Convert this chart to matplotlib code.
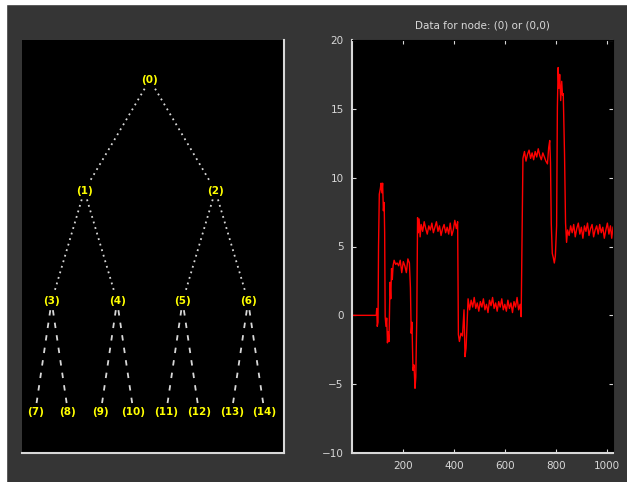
import matplotlib
matplotlib.use("Agg")
import matplotlib.pyplot as plt
from matplotlib.patches import Rectangle

OUTPUT_PNG = "out.png"

# Tree: binary tree of depth 3, nodes numbered 0..14
tree_depth = 3
node_labels = ["(%d)" % n for n in range(15)]

# Signal of node (0) (sample index, value)
sig_x = [1, 96, 98, 100, 103, 105, 108, 112, 115, 118, 121, 124, 127, 129, 131, 134, 137, 140,
         143, 146, 150, 153, 156, 159, 162, 166, 172, 178, 184, 190, 196, 202, 208, 214, 220,
         226, 230, 233, 236, 240, 244, 248, 251, 255, 258, 261, 264, 268,
         272, 278, 284, 290, 296, 302, 308, 314, 320, 326, 332, 338, 344, 350, 356, 362, 368,
         374, 380, 386, 392, 398, 404, 410, 415,
         418, 422, 428, 434, 440, 444, 448, 452, 456, 462, 468,
         474, 480, 486, 492, 498, 504, 510, 516, 522, 528, 534, 540, 546, 552, 558, 564, 570,
         576, 582, 588, 594, 600, 606, 612, 618, 624, 630, 636, 642, 648, 654, 660, 664, 666,
         671, 677, 683, 689, 695, 701, 707, 713, 719, 725, 731, 737, 743, 749, 755, 761, 767,
         772, 776,
         779, 782, 786, 790, 794, 798, 803, 806, 809, 812, 815, 819, 823, 826, 829, 834, 838,
         842, 846,
         852, 858, 864, 870, 876, 882, 888, 894, 900, 906, 912, 918, 924, 930, 936, 942, 948,
         954, 960, 966, 972, 978, 984, 990, 996, 1002, 1008, 1014, 1019, 1024]
sig_y = [0, 0, 0.5, -0.8, -0.5, 5.0, 8.8, 9.2, 9.6, 8.9, 9.6, 7.6, 8.2, 6.0, -0.1, -0.8, -0.2, -2.0,
         -1.2, -1.9, 2.4, 1.2, 3.4, 2.6, 3.6, 4.0, 3.7, 3.8, 3.6, 4.0, 3.1, 3.9, 3.6, 3.1, 4.1,
         3.8, 2.0, -1.3, -0.5, -4.0, -3.6, -5.3, -4.5, -0.1, 7.1, 6.0, 7.0, 5.7,
         6.6, 6.1, 6.8, 6.3, 5.9, 6.5, 6.2, 6.7, 6.0, 6.4, 6.8, 6.1, 6.5, 5.8, 6.3, 6.6, 6.0,
         6.4, 5.9, 6.7, 5.8, 6.2, 6.9, 6.3, 6.8,
         -1.4, -1.9, -1.3, -1.5, 0.4, -3.0, -2.4, -0.6, 1.2, 0.4, 1.1,
         0.6, 1.3, 0.5, 0.9, 0.3, 1.0, 0.6, 1.2, 0.4, 0.8, 0.2, 1.1, 0.7, 1.3, 0.5, 0.9, 0.3,
         1.0, 0.6, 1.2, 0.4, 0.8, 0.3, 1.1, 0.5, 0.9, 0.2, 1.0, 0.6, 1.3, 0.4, 0.8, -0.1, 3.3,
         11.4, 11.9, 11.2, 11.7, 12.0, 11.4, 11.8, 11.3, 11.9, 11.5, 12.1, 11.6, 11.3, 11.8,
         11.5, 11.2, 11.0, 12.2, 12.7,
         11.1, 6.7, 4.5, 4.2, 3.8, 4.3, 6.5, 15.1, 18.0, 16.5, 17.5, 15.6, 17.0, 16.0, 16.1,
         11.7, 6.7, 5.3, 6.2,
         5.8, 6.5, 6.0, 6.6, 5.7, 6.3, 6.7, 5.9, 6.4, 5.6, 6.5, 6.1, 6.7, 5.8, 6.3, 6.6, 5.7,
         6.2, 6.5, 5.9, 6.6, 6.0, 6.4, 5.6, 6.2, 6.7, 5.9, 6.5, 5.6, 6.4]

x_ticks = [200, 400, 600, 800, 1000]
y_ticks = [-10, -5, 0, 5, 10, 15, 20]
title = "Data for node: (0) or (0,0)"

W, H = 627, 482
fig = plt.figure(figsize=(W / 100, H / 100), dpi=100)
fig.patch.set_facecolor("#353535")
# white strip on the left and top edge
fig.add_artist(Rectangle((0, 0), 6 / W, 1, transform=fig.transFigure, color="white", zorder=-1))
fig.add_artist(Rectangle((0, 1 - 4 / H), 1, 4 / H, transform=fig.transFigure, color="white", zorder=-1))

fg = "#d8d8d8"

# --- tree axes ---
ax_t = fig.add_axes([22 / W, 29 / H, 262 / W, 413 / H])
ax_t.set_facecolor("black")
ax_t.set_xlim(0.012, 1.012)
ax_t.set_ylim(-tree_depth - 0.37, 0.36)
ax_t.set_xticks([])
ax_t.set_yticks([])
for side in ["left", "top"]:
    ax_t.spines[side].set_visible(False)
for side in ["right", "bottom"]:
    ax_t.spines[side].set_color(fg)
    ax_t.spines[side].set_linewidth(1.5)

def node_pos(n):
    d = 0
    while n >= 2 ** (d + 1) - 1:
        d += 1
    i = n - (2 ** d - 1)
    return (i + 0.5) / 2 ** d, -d

gap = 0.08
for n in range(1, 15):
    parent = (n - 1) // 2
    xp, yp = node_pos(parent)
    xc, yc = node_pos(n)
    t0, t1 = gap / (yp - yc), 1 - gap / (yp - yc)
    ls = (0, (3, 4)) if yc == -3 else (0, (1, 2.2))
    ax_t.plot([xp + (xc - xp) * t0, xp + (xc - xp) * t1],
              [yp + (yc - yp) * t0, yp + (yc - yp) * t1],
              color=fg, linewidth=1.3, linestyle=ls)

for n in range(15):
    x, y = node_pos(n)
    ax_t.text(x, y, node_labels[n], color="yellow", fontsize=7.5, fontweight="bold",
              ha="center", va="center")

# --- signal axes ---
ax = fig.add_axes([352 / W, 29 / H, 261 / W, 413 / H])
ax.set_facecolor("black")
ax.plot(sig_x, sig_y, color="red", linewidth=1)
ax.set_xlim(1, 1024)
ax.set_ylim(-10, 20)
ax.set_xticks(x_ticks)
ax.set_yticks(y_ticks)
ax.tick_params(direction="in", length=3, color=fg, labelcolor=fg, labelsize=7.5,
               top=True, right=True, pad=6)
for side in ["left", "bottom"]:
    ax.spines[side].set_color(fg)
    ax.spines[side].set_linewidth(1.5)
for side in ["right", "top"]:
    ax.spines[side].set_color("black")
ax.set_title(title, color=fg, fontsize=7.5, pad=8)

plt.savefig(OUTPUT_PNG, dpi=100, facecolor=fig.get_facecolor())
plt.close()
